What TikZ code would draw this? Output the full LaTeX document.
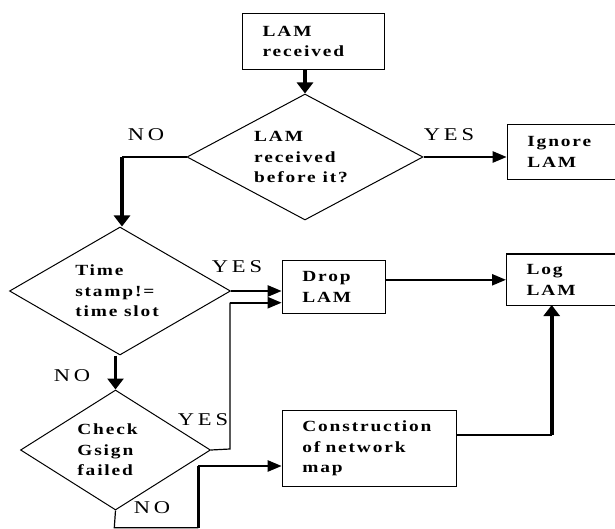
\documentclass[tikz,border=0pt]{standalone}
\usepackage{fontspec}
\setmainfont{Liberation Serif}
\newfontfamily\spacedfont[FakeStretch=1.25,LetterSpace=12]{Liberation Serif}
\newfontfamily\lblfont[FakeStretch=1.25,LetterSpace=21]{Liberation Serif}
\usetikzlibrary{shapes.geometric,arrows.meta}
\tikzset{
  boxnode/.style={rectangle, draw, line width=1.3pt, anchor=north west,
    inner xsep=20pt, inner ysep=0pt, align=left,
    font=\spacedfont\bfseries\fontsize{15.5}{20.5}\selectfont},
  decnode/.style={diamond, draw, line width=1pt, inner sep=0pt, align=left,
    font=\spacedfont\bfseries\fontsize{15.5}{20.5}\selectfont},
  lbl/.style={inner sep=0pt, font=\lblfont\fontsize{18}{20}\selectfont},
  thinln/.style={line width=1.2pt},
  harr/.style={line width=2.4pt, -{Triangle[length=14pt,width=11pt]}},
  varr/.style={line width=3.6pt, -{Triangle[length=11pt,width=16pt]}},
  vthick/.style={line width=3.6pt},
}
\begin{document}
\begin{tikzpicture}[x=1pt,y=-1pt]
\useasboundingbox (0,0) rectangle (615,529);
\clip (0,0) rectangle (615,529);
% boxes
\node[boxnode, minimum width=142pt, minimum height=56pt, text width=102pt] (b1) at (242,13) {LAM\\received};
\node[boxnode, minimum width=140pt, minimum height=55pt, text width=100pt] (ign) at (506.7,124) {Ignore\\LAM};
\node[boxnode, minimum width=103.3pt, minimum height=52.7pt, text width=63.3pt] (drop) at (281.7,260) {Drop\\LAM};
\node[boxnode, minimum width=140pt, minimum height=51.7pt, text width=100pt] (log) at (506,253.3) {Log\\LAM};
\node[boxnode, minimum width=174.3pt, minimum height=76pt, text width=134.3pt] (cons) at (281.7,410) {Construction\\of network\\map};
% decisions
\node[decnode, minimum width=236pt, minimum height=126pt, aspect=1.87] (d1) at (305,157) {LAM\\received\\before it?\hspace*{8pt}};
\node[decnode, minimum width=221pt, minimum height=128pt, aspect=1.73] (d2) at (120,291) {Time\\stamp!=\\time slot\hspace*{6pt}};
\node[decnode, minimum width=190pt, minimum height=120pt, aspect=1.58] (d3) at (115.5,450) {Check\hspace*{16pt}\\Gsign\\failed};
% labels
\node[lbl] (no1) at (146,135) {NO};
\node[lbl] (yes1) at (449,135) {YES};
\node[lbl] (yes2) at (237,267) {YES};
\node[lbl] (no2) at (72,376) {NO};
\node[lbl] (yes3) at (203,420) {YES};
\node[lbl] (no3) at (152,508) {NO};
% helper coordinates
\coordinate (c1) at (122,157);
\coordinate (c2) at (230,449);
\coordinate (c3) at (230,302.7);
\coordinate (c4) at (114.3,527.7);
\coordinate (c5) at (198.3,527.7);
\coordinate (c6) at (198.3,466);
\coordinate (c7) at (456,435);
\coordinate (c8) at (551.7,435);
\coordinate (c9) at (551.7,305);
% connectors
\draw[varr] (d1.north |- b1.south) -- (d1.north);
\draw[harr] (d1.east) -- (d1.east -| ign.west);
\draw[thinln] (d1.west) -- (c1);
\draw[varr] (c1) -- (c1 |- d2.north);
\draw[harr] (d2.east) -- (d2.east -| drop.west);
\draw[varr] (d3.north |- d2.south) -- (d3.north);
\draw[thinln] (d3.east) -- (c2) -- (c3);
\draw[harr] (c3) -- (c3 -| drop.west);
\draw[thinln] (d3.south) -- (c4) -- (c5);
\draw[vthick] (c5) -- (c6);
\draw[harr] (c6) -- (c6 -| cons.west);
\draw[harr] (log.west -| drop.east) -- (log.west);
\draw[thinln] (c7) -- (c8);
\draw[varr] (c8) -- (c9);
\end{tikzpicture}
\end{document}
